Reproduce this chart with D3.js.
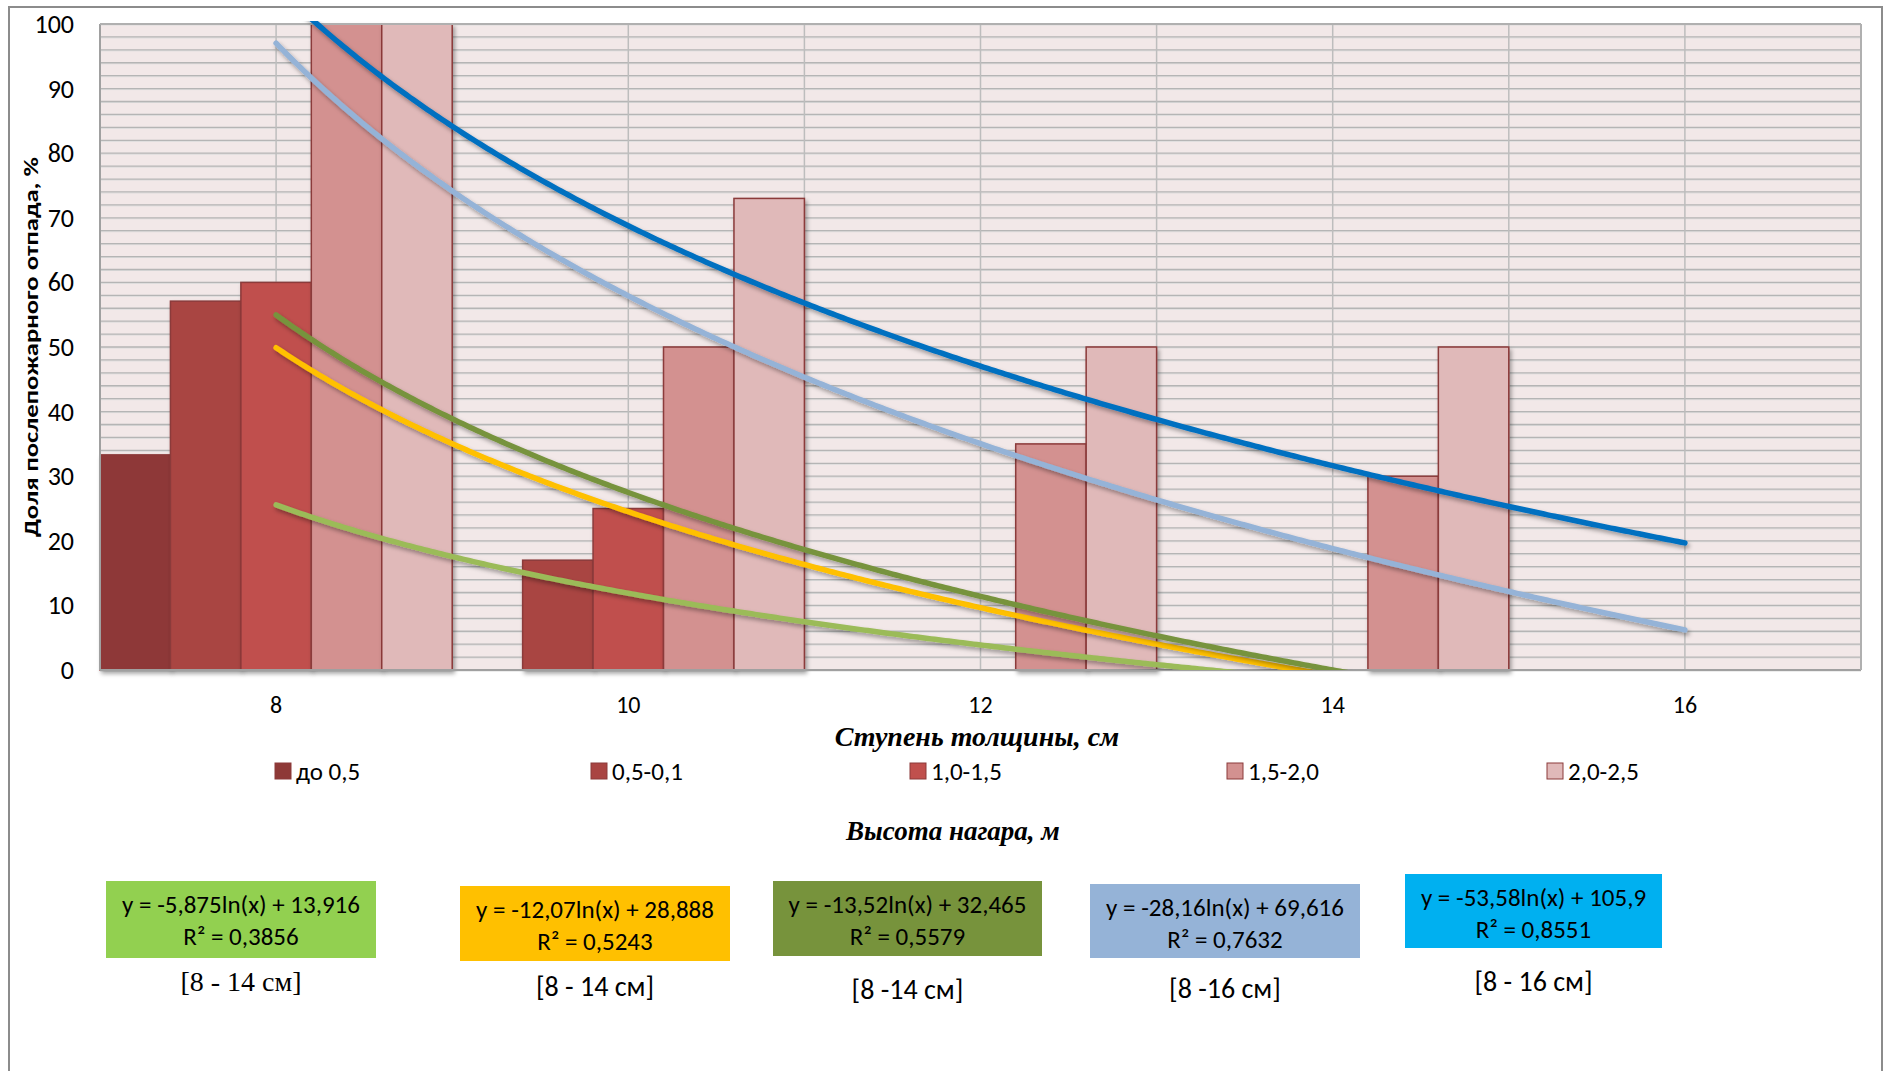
<!DOCTYPE html>
<html>
<head>
<meta charset="utf-8">
<script src="https://cdn.jsdelivr.net/npm/d3@7"></script>
<style>
  body { margin: 0; background: #fff; }
  text { font-family: Carlito, Lato, sans-serif; }
</style>
</head>
<body>
<div id="chart"></div>
<script>
// данные диаграммы
var categories = ['8', '10', '12', '14', '16']
var seriesNames = ['до 0,5', '0,5-0,1', '1,0-1,5', '1,5-2,0', '2,0-2,5']
var s1 = [33.3, 0, 0, 0, 0]
var s2 = [57.1, 17, 0, 0, 0]
var s3 = [60, 25, 0, 0, 0]
var s4 = [100, 50, 35, 30, 0]
var s5 = [100, 73, 50, 50, 0]
var yTicks = [0, 10, 20, 30, 40, 50, 60, 70, 80, 90, 100]
var eqTexts = ['y = -5,875ln(x) + 13,916', 'y = -12,07ln(x) + 28,888', 'y = -13,52ln(x) + 32,465', 'y = -28,16ln(x) + 69,616', 'y = -53,58ln(x) + 105,9']
var r2Texts = ['R² = 0,3856', 'R² = 0,5243', 'R² = 0,5579', 'R² = 0,7632', 'R² = 0,8551']
var rangeTexts = ['[8 - 14 см]', '[8 - 14 см]', '[8 -14 см]', '[8 -16 см]', '[8 - 16 см]']

var allSeries = [s1, s2, s3, s4, s5]
var barColors = ['#8E3937', '#A94442', '#C0504D', '#D39190', '#E0B9B9']
var trendColors = ['#9BBB59', '#FFC000', '#77933C', '#95B3D7', '#0070C0']
var boxColors = ['#92D050', '#FFC000', '#77933C', '#95B3D7', '#00B0F0']

var W = 1885, H = 1071
var padding = {top: 24, left: 100, right: 24, bottom: 401}
var plotW = W - padding.left - padding.right
var plotH = H - padding.top - padding.bottom

var svg = d3.select('#chart').append('svg')
  .attr('width', W).attr('height', H)

var defs = svg.append('defs')
var f = defs.append('filter').attr('id', 'shadow')
  .attr('x', '-10%').attr('y', '-10%').attr('width', '130%').attr('height', '130%')
f.append('feDropShadow').attr('dx', 2).attr('dy', 3).attr('stdDeviation', 2)
  .attr('flood-color', '#000').attr('flood-opacity', 0.35)
defs.append('clipPath').attr('id', 'plotclip').append('rect')
  .attr('x', padding.left).attr('y', padding.top - 3)
  .attr('width', plotW).attr('height', plotH + 3)

// рамка
svg.append('rect').attr('x', 9).attr('y', 7).attr('width', 1873).attr('height', 1100)
  .attr('fill', 'none').attr('stroke', '#8c8c8c').attr('stroke-width', 2)

var x = d3.scaleBand().domain(categories)
  .range([padding.left, padding.left + plotW]).padding(0)
var xs = d3.scaleBand().domain(d3.range(seriesNames.length))
  .range([0, x.bandwidth()]).padding(0)
// для линий тренда: x = 1..5 -> центр категории
var xi = d3.scaleLinear().domain([0.5, categories.length + 0.5])
  .range([padding.left, padding.left + plotW])
var y = d3.scaleLinear().domain([0, 100]).range([padding.top + plotH, padding.top])

// фон области построения
svg.append('rect').attr('x', padding.left).attr('y', padding.top)
  .attr('width', plotW).attr('height', plotH).attr('fill', '#F2E8E8')

// сетка
var g = svg.append('g')
g.selectAll('line.h').data(d3.range(0, 101, 2)).enter().append('line')
  .attr('x1', padding.left).attr('x2', padding.left + plotW)
  .attr('y1', d => y(d) + 1).attr('y2', d => y(d) + 1)
  .attr('stroke', '#dcdcdc').attr('stroke-width', 1)
g.selectAll('line.h2').data(d3.range(0, 101, 2)).enter().append('line')
  .attr('x1', padding.left).attr('x2', padding.left + plotW)
  .attr('y1', d => y(d)).attr('y2', d => y(d))
  .attr('stroke', '#b5b5b5').attr('stroke-width', 1.3)
g.selectAll('line.v').data(d3.range(0.5, categories.length + 0.6, 0.5)).enter().append('line')
  .attr('x1', d => xi(d)).attr('x2', d => xi(d))
  .attr('y1', padding.top).attr('y2', padding.top + plotH)
  .attr('stroke', '#bdbdbd').attr('stroke-width', 1.5)

// столбцы
seriesNames.forEach(function (name, si) {
  var vals = allSeries[si].map((v, i) => ({cat: categories[i], v: v}))
  svg.append('g').attr('filter', 'url(#shadow)')
    .selectAll('rect').data(vals.filter(d => d.v > 0)).enter()
    .append('rect')
    .attr('x', d => x(d.cat) + xs(si))
    .attr('y', d => y(d.v))
    .attr('width', xs.bandwidth())
    .attr('height', d => y(0) - y(d.v))
    .attr('fill', barColors[si])
    .attr('stroke', '#8B3A3A').attr('stroke-width', 1.5)
})

// оси
svg.append('line').attr('x1', padding.left).attr('x2', padding.left)
  .attr('y1', padding.top).attr('y2', padding.top + plotH)
  .attr('stroke', '#a0a0a0').attr('stroke-width', 2)
svg.append('line').attr('x1', padding.left).attr('x2', padding.left + plotW)
  .attr('y1', padding.top + plotH).attr('y2', padding.top + plotH)
  .attr('stroke', '#a0a0a0').attr('stroke-width', 2)
svg.append('line').attr('x1', padding.left + plotW).attr('x2', padding.left + plotW)
  .attr('y1', padding.top).attr('y2', padding.top + plotH)
  .attr('stroke', '#b0b0b0').attr('stroke-width', 2)
svg.append('line').attr('x1', padding.left).attr('x2', padding.left + plotW)
  .attr('y1', padding.top).attr('y2', padding.top)
  .attr('stroke', '#b0b0b0').attr('stroke-width', 2)

// логарифмические линии тренда (МНК по данным столбцов)
function logFit (vals) {
  var xsv = vals.map((v, i) => Math.log(i + 1))
  var mx = d3.mean(xsv), my = d3.mean(vals)
  var sxy = d3.sum(xsv, (t, i) => (t - mx) * (vals[i] - my))
  var sxx = d3.sum(xsv, t => (t - mx) * (t - mx))
  var b = sxy / sxx
  return {a: my - b * mx, b: b}
}
var line = d3.line().x(d => xi(d[0])).y(d => y(d[1])).curve(d3.curveLinear)
var trendG = svg.append('g').attr('clip-path', 'url(#plotclip)')
allSeries.forEach(function (vals, si) {
  var fit = logFit(vals)
  var pts = d3.range(0, 401).map(k => 1 + k * (categories.length - 1) / 400)
    .map(t => [t, fit.a + fit.b * Math.log(t)])
    .filter(p => p[1] >= -0.5)
  trendG.append('path').datum(pts)
    .attr('d', line)
    .attr('fill', 'none')
    .attr('stroke', trendColors[si])
    .attr('stroke-width', 5.5)
    .attr('stroke-linecap', 'round')
    .attr('filter', 'url(#shadow)')
})

// подписи осей
svg.selectAll('text.yt').data(yTicks).enter().append('text')
  .attr('x', 74).attr('y', d => y(d) + 9)
  .attr('text-anchor', 'end').attr('font-size', 26).attr('fill', '#000')
  .text(d => d)
svg.selectAll('text.xt').data(categories).enter().append('text')
  .attr('x', d => x(d) + x.bandwidth() / 2).attr('y', 713)
  .attr('text-anchor', 'middle').attr('font-size', 24).attr('fill', '#000')
  .text(d => d)

svg.append('text')
  .attr('transform', `translate(38, ${padding.top + plotH / 2}) rotate(-90)`)
  .attr('text-anchor', 'middle').attr('font-size', 21).attr('font-weight', 'bold')
  .attr('textLength', 380).attr('lengthAdjust', 'spacingAndGlyphs')
  .text('Доля послепожарного отпада, %')

svg.append('text').attr('x', 977).attr('y', 746)
  .attr('text-anchor', 'middle').attr('font-size', 28)
  .attr('font-weight', 'bold').attr('font-style', 'italic')
  .style('font-family', '"Liberation Serif", serif')
  .text('Ступень толщины, см')

// легенда
var legendX = [275, 591, 910, 1227, 1547]
var lg = svg.selectAll('g.lg').data(seriesNames).enter().append('g')
  .attr('transform', (d, i) => `translate(${legendX[i]}, 771)`)
lg.append('rect').attr('x', 0).attr('y', -8).attr('width', 16).attr('height', 16)
  .attr('fill', (d, i) => barColors[i]).attr('stroke', '#8B3A3A').attr('stroke-width', 1)
lg.append('text').attr('x', 21).attr('y', 9).attr('font-size', 25).text(d => d)

svg.append('text').attr('x', 953).attr('y', 840)
  .attr('text-anchor', 'middle').attr('font-size', 27)
  .attr('font-weight', 'bold').attr('font-style', 'italic')
  .style('font-family', '"Liberation Serif", serif')
  .text('Высота нагара, м')

// подписи уравнений
var boxes = [
  {x: 106, y: 881, w: 270, h: 77},
  {x: 460, y: 886, w: 270, h: 75},
  {x: 773, y: 881, w: 269, h: 75},
  {x: 1090, y: 884, w: 270, h: 74},
  {x: 1405, y: 874, w: 257, h: 74}
]
var rangeY = [991, 996, 999, 998, 991]
var bg = svg.selectAll('g.eq').data(boxes).enter().append('g')
bg.append('rect').attr('x', d => d.x).attr('y', d => d.y)
  .attr('width', d => d.w).attr('height', d => d.h)
  .attr('fill', (d, i) => boxColors[i])
bg.append('text').attr('x', d => d.x + d.w / 2).attr('y', d => d.y + 32)
  .attr('text-anchor', 'middle').attr('font-size', 25).text((d, i) => eqTexts[i])
bg.append('text').attr('x', d => d.x + d.w / 2).attr('y', d => d.y + 64)
  .attr('text-anchor', 'middle').attr('font-size', 25).text((d, i) => r2Texts[i])
bg.append('text').attr('x', d => d.x + d.w / 2).attr('y', (d, i) => rangeY[i])
  .attr('text-anchor', 'middle').attr('font-size', 28)
  .style('font-family', (d, i) => i === 0 ? '"Liberation Serif", serif' : null)
  .text((d, i) => rangeTexts[i])
</script>
</body>
</html>
